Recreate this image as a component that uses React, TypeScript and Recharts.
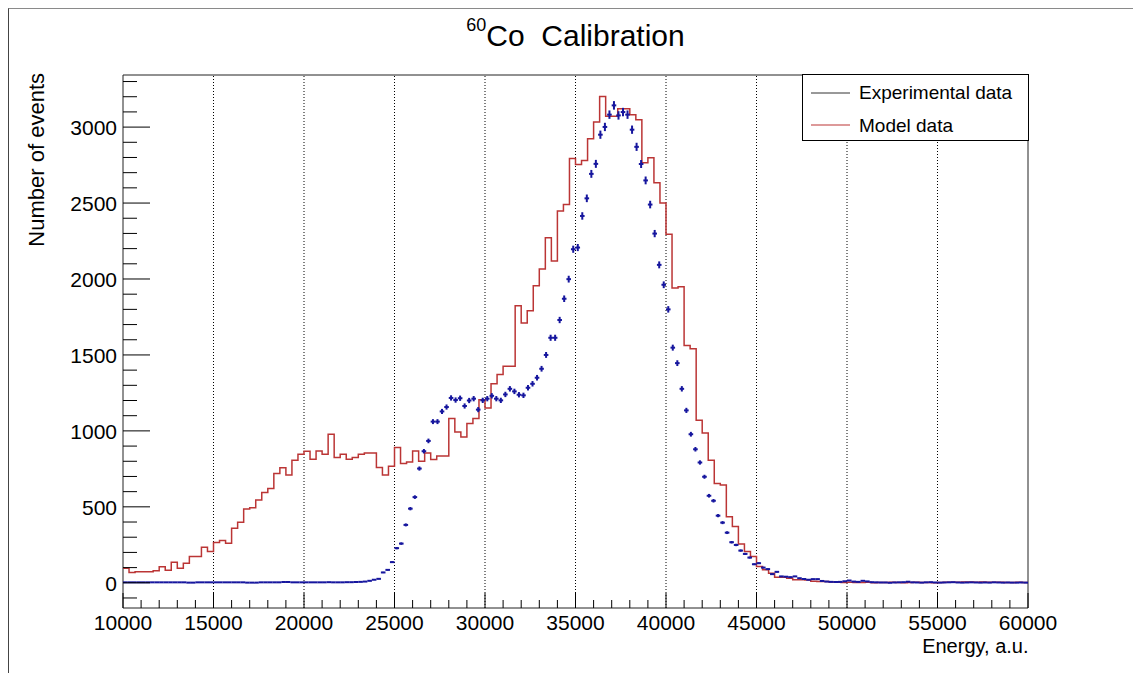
import { ComposedChart, Line, Scatter, ErrorBar, XAxis, YAxis, ReferenceLine, ReferenceArea } from 'recharts';

// axis ranges
const X_MIN = 10000;
const X_MAX = 60000;
const Y_MIN = -166;
const Y_MAX = 3343;

const xMajorTicks = [10000, 15000, 20000, 25000, 30000, 35000, 40000, 45000, 50000, 55000, 60000];
const xMinorStep = 1000;
const yMajorTicks = [0, 500, 1000, 1500, 2000, 2500, 3000];
const yMinorStep = 100;
const gridLines = [15000, 20000, 25000, 30000, 35000, 40000, 45000, 50000, 55000];

// model histogram: 150 bins of 333.3
const modelCounts = [
  96, 68, 72, 72, 72, 80, 105, 83, 135, 96,
  129, 173, 173, 234, 206, 265, 278, 260, 359, 398,
  486, 494, 545, 595, 621, 720, 757, 709, 807, 846,
  866, 814, 868, 846, 978, 825, 846, 814, 825, 846,
  855, 855, 759, 709, 768, 890, 785, 796, 868, 800,
  855, 811, 835, 835, 1081, 993, 960, 1048, 1081, 1205,
  1150, 1310, 1371, 1426, 1426, 1824, 1710, 1791, 1955, 2065,
  2272, 2119, 2447, 2491, 2793, 2754, 2780, 2924, 3034, 3202,
  3071, 3071, 3121, 3121, 3082, 3049, 2765, 2798, 2634, 2500,
  2294, 1940, 1949, 1562, 1540, 1070, 986, 807, 654, 643,
  435, 370, 256, 206, 173, 107, 85, 63, 37, 37,
  30, 20, 20, 18, 10, 9, 9, 5, 3, 2,
  3, 2, 2, 3, 1, 2, 2, 3, 2, 1,
  2, 3, 2, 2, 1, 2, 3, 4, 4, 5,
  5, 4, 5, 4, 4, 3, 2, 2, 3, 2,
];

// experimental points: 200 bins of 250
const expCounts = [
  3, 3, 3, 3, 3, 3, 3, 3, 3, 3,
  3, 3, 3, 3, 1, 1, 3, 3, 3, 3,
  3, 3, 3, 3, 3, 3, 3, 1, 1, 1,
  3, 3, 3, 3, 3, 5, 5, 3, 3, 3,
  3, 3, 3, 3, 3, 4, 3, 3, 3, 4,
  4, 5, 6, 8, 13, 20, 26, 68, 85, 136,
  228, 258, 381, 488, 564, 752, 866, 934, 1061, 1061,
  1128, 1157, 1217, 1203, 1215, 1164, 1200, 1212, 1140, 1201,
  1212, 1231, 1212, 1201, 1240, 1277, 1260, 1238, 1234, 1284,
  1310, 1350, 1409, 1500, 1613, 1613, 1730, 1870, 1999, 2196,
  2207, 2415, 2531, 2692, 2758, 2950, 3001, 3082, 3143, 3077,
  3099, 3082, 2983, 2870, 2757, 2649, 2490, 2299, 2093, 1962,
  1800, 1548, 1446, 1277, 1135, 978, 879, 792, 698, 573,
  540, 442, 396, 330, 267, 249, 212, 190, 166, 122,
  129, 100, 90, 57, 72, 42, 40, 37, 42, 30,
  25, 20, 24, 24, 12, 8, 6, 5, 6, 10,
  15, 8, 6, 13, 9, 4, 3, 2, 2, 0,
  2, 3, 4, 7, 3, 2, 1, 3, 4, 2,
  1, 2, 3, 4, 2, 1, 2, 3, 2, 1,
  2, 1, 3, 2, 1, 2, 1, 1, 2, 1,
];

const RED = '#bb3535';
const BLUE = '#16169e';
const FONT = '"Liberation Sans", Arial, Helvetica, sans-serif';

// layout (chart coords)
const W = 1132;
const H = 664;
const PLOT_L = 114;
const PLOT_T = 66;
const PLOT_W = 905;
const PLOT_H = 533;
const PLOT_B = PLOT_T + PLOT_H;

const modelBin = (X_MAX - X_MIN) / modelCounts.length;
const expBin = (X_MAX - X_MIN) / expCounts.length;

const modelData = modelCounts.map((c, i) => ({ x: X_MIN + modelBin * i, y: c }));
modelData.push({ x: X_MAX, y: modelCounts[modelCounts.length - 1] });

const expData = expCounts.map((c, i) => ({
  x: X_MIN + expBin * (i + 0.5),
  y: c,
  err: Math.sqrt(c) * 0.5,
}));

const xTicks: number[] = [];
for (let v = X_MIN; v <= X_MAX; v += xMinorStep) xTicks.push(v);
const yTicks: number[] = [];
for (let v = -100; v <= 3300; v += yMinorStep) yTicks.push(v);

function XTick(props: any) {
  const { x, payload } = props;
  const major = xMajorTicks.includes(payload.value);
  return (
    <g>
      <line x1={x} x2={x} y1={PLOT_B} y2={PLOT_B - (major ? 15 : 8)} stroke="#000" />
      {major && (
        <text x={x} y={PLOT_B + 22} textAnchor="middle" fontSize={21} fontFamily={FONT} fill="#000">
          {payload.value}
        </text>
      )}
    </g>
  );
}

function YTick(props: any) {
  const { y, payload } = props;
  const major = yMajorTicks.includes(payload.value);
  return (
    <g>
      <line x1={PLOT_L} x2={PLOT_L + (major ? 27 : 14)} y1={y} y2={y} stroke="#000" />
      {major && (
        <text x={PLOT_L - 6} y={y + 8} textAnchor="end" fontSize={21} fontFamily={FONT} fill="#000">
          {payload.value}
        </text>
      )}
    </g>
  );
}

function Cross(props: any) {
  const { cx, cy } = props;
  return <line x1={cx - 2.3} x2={cx + 2.3} y1={cy} y2={cy} stroke={BLUE} strokeWidth={2} />;
}

export default function App() {
  return (
    <div
      style={{
        position: 'relative',
        width: W,
        height: H,
        borderTop: '1px solid #8a8a8a',
        borderLeft: '1px solid #444',
        background: '#fff',
        fontFamily: FONT,
      }}
    >
      <div style={{ position: 'absolute', left: 0, top: 0 }}>
        <ComposedChart
          width={W}
          height={H}
          margin={{ top: PLOT_T, right: W - PLOT_L - PLOT_W, bottom: H - PLOT_B - 40, left: PLOT_L - 100 }}
        >
          <XAxis
            dataKey="x"
            type="number"
            domain={[X_MIN, X_MAX]}
            ticks={xTicks}
            interval={0}
            height={40}
            axisLine={false}
            tickLine={false}
            tick={XTick}
            allowDataOverflow
          />
          <YAxis
            type="number"
            domain={[Y_MIN, Y_MAX]}
            ticks={yTicks}
            interval={0}
            width={100}
            axisLine={false}
            tickLine={false}
            tick={YTick}
            allowDataOverflow
          />
          {gridLines.map((g) => (
            <ReferenceLine key={g} x={g} stroke="#000" strokeWidth={1} strokeDasharray="1 2" />
          ))}
          <Line
            data={modelData}
            dataKey="y"
            type="stepAfter"
            stroke={RED}
            strokeWidth={1.5}
            dot={false}
            isAnimationActive={false}
          />
          <Scatter data={expData} dataKey="y" fill={BLUE} shape={Cross} isAnimationActive={false}>
            <ErrorBar dataKey="err" direction="y" width={0} stroke={BLUE} strokeWidth={2} />
          </Scatter>
          <ReferenceArea x1={X_MIN} x2={X_MAX} y1={Y_MIN} y2={Y_MAX} fill="none" stroke="#222" strokeWidth={1} />
        </ComposedChart>
      </div>
      <svg width={W} height={H} style={{ position: 'absolute', left: 0, top: 0, pointerEvents: 'none' }}>
        <text x={566.5} y={37} textAnchor="middle" fontSize={30} fontFamily={FONT} fill="#000" style={{ whiteSpace: 'pre' }}>
          <tspan fontSize={18} dy={-15}>60</tspan>
          <tspan dy={15}>Co  Calibration</tspan>
        </text>
        <text
          transform="translate(35,64) rotate(-90)"
          textAnchor="end"
          fontSize={22}
          fontFamily={FONT}
          fill="#000"
        >
          Number of events
        </text>
        <text x={1019.5} y={644} textAnchor="end" fontSize={20} fontFamily={FONT} fill="#000">
          Energy, a.u.
        </text>
        <rect x={793.5} y={65.5} width={226} height={66} fill="#fff" stroke="#000" />
        <line x1={802} x2={841} y1={84} y2={84} stroke="#333" strokeWidth={1} />
        <text x={850} y={90} fontSize={19} fontFamily={FONT} fill="#000">
          Experimental data
        </text>
        <line x1={802} x2={841} y1={116} y2={116} stroke={RED} strokeWidth={1.2} />
        <text x={850} y={123} fontSize={19} fontFamily={FONT} fill="#000">
          Model data
        </text>
      </svg>
    </div>
  );
}
